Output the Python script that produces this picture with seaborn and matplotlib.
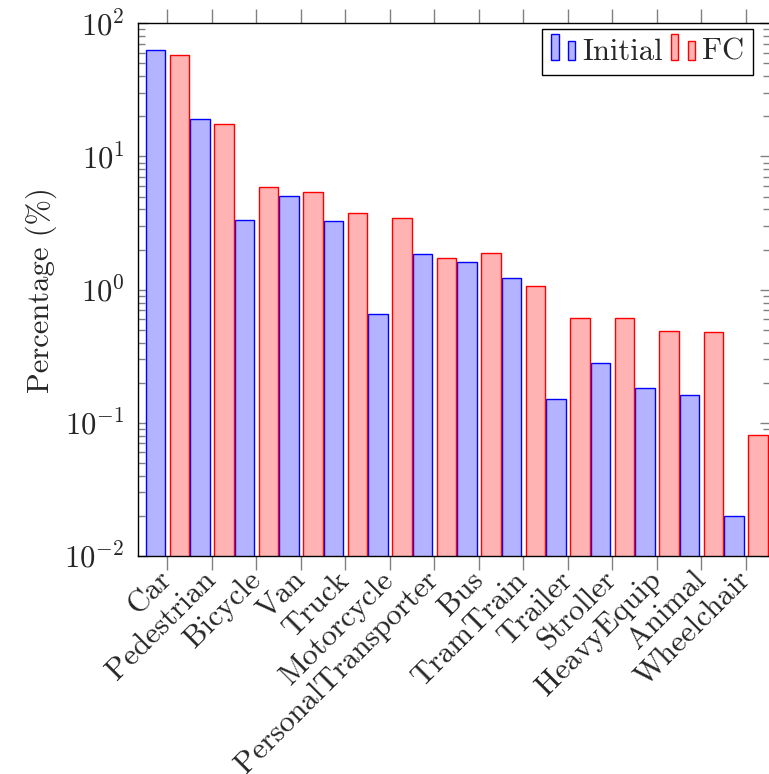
import matplotlib
matplotlib.use("Agg")
import matplotlib.pyplot as plt
import seaborn as sns
import pandas as pd
from matplotlib.patches import Rectangle, Patch
from matplotlib.legend_handler import HandlerBase

categories = ["Car", "Pedestrian", "Bicycle", "Van", "Truck", "Motorcycle",
              "PersonalTransporter", "Bus", "TramTrain", "Trailer", "Stroller",
              "HeavyEquip", "Animal", "Wheelchair"]
initial = [63.4, 19.2, 3.32, 5.05, 3.28, 0.653, 1.86, 1.61, 1.22, 0.151, 0.283,
           0.182, 0.161, 0.020]
fc = [57.5, 17.6, 5.93, 5.44, 3.75, 3.45, 1.72, 1.89, 1.07, 0.61, 0.61,
      0.492, 0.484, 0.0807]
series_names = ["Initial", "FC"]
fill_colors = ["#b3b3ff", "#ffb3b3"]
edge_colors = ["#0000ff", "#ff0000"]

df = pd.DataFrame({
    "category": categories * 2,
    "series": ["Initial"] * len(categories) + ["FC"] * len(categories),
    "value": initial + fc,
})

sns.set_theme(style="white")
plt.rcParams.update({
    "font.family": ["cmr10"],
    "mathtext.fontset": "cm",
    "axes.unicode_minus": False,
    "axes.formatter.use_mathtext": True,
    "font.size": 22,
})

W, H = 769, 774
fig = plt.figure(figsize=(W / 100, H / 100), dpi=100)
left, right, top, bottom = 138.3, 770.0, 23.3, 556.0
ax = fig.add_axes([left / W, 1 - bottom / H, (right - left) / W, (bottom - top) / H])

sns.barplot(data=df, x="category", y="value", hue="series", order=categories,
            hue_order=series_names, palette=fill_colors, saturation=1,
            width=1.08, gap=0.2, errorbar=None, linewidth=1.0, ax=ax,
            legend=False)
for cont, ec in zip(ax.containers, edge_colors):
    for p in cont:
        p.set_edgecolor(ec)
        p.set_linewidth(1.0)

ax.set_yscale("log")
ax.set_ylim(1e-2, 1e2)
ax.set_xlim(-0.655, 13.54)

ax.set_xticks(range(len(categories)))
ax.set_xticklabels(categories, rotation=45, ha="right", va="center",
                   rotation_mode="anchor", fontsize=22)
ax.set_xlabel("")
ax.tick_params(axis="x", which="major", direction="out", length=10, width=1,
               color="#808080", top=True, bottom=True, labeltop=False, pad=4)
ax.tick_params(axis="y", which="both", direction="in", left=True, right=True,
               color="#808080", width=1, labelsize=22, pad=10)
ax.tick_params(axis="y", which="major", length=7)
ax.tick_params(axis="y", which="minor", length=5)
for s in ax.spines.values():
    s.set_color("black")
    s.set_linewidth(1.0)

ax.set_ylabel("Percentage (%)", fontsize=22, labelpad=5)


class TwoBarHandler(HandlerBase):
    def create_artists(self, legend, orig_handle, xdescent, ydescent, width,
                       height, fontsize, trans):
        fcol = orig_handle.get_facecolor()
        ecol = orig_handle.get_edgecolor()
        bw = width * 0.3
        r1 = Rectangle((-xdescent, -ydescent), bw, height * 1.18,
                       facecolor=fcol, edgecolor=ecol, linewidth=1.0,
                       transform=trans)
        r2 = Rectangle((-xdescent + width - bw, -ydescent), bw, height * 0.87,
                       facecolor=fcol, edgecolor=ecol, linewidth=1.0,
                       transform=trans)
        return [r1, r2]


handles = [Patch(facecolor=f, edgecolor=e, label=n)
           for f, e, n in zip(fill_colors, edge_colors, series_names)]
leg = ax.legend(handles=handles, handler_map={Patch: TwoBarHandler()}, ncol=2,
                loc="upper right", bbox_to_anchor=(753 / W, 1 - 29 / H),
                bbox_transform=fig.transFigure, borderaxespad=0, frameon=True,
                fancybox=False, edgecolor="black", framealpha=1, fontsize=22,
                handlelength=0.78, handletextpad=0.23, columnspacing=0.26,
                borderpad=0.3)
leg.get_frame().set_linewidth(1.0)

fig.savefig("out.png", dpi=100)
